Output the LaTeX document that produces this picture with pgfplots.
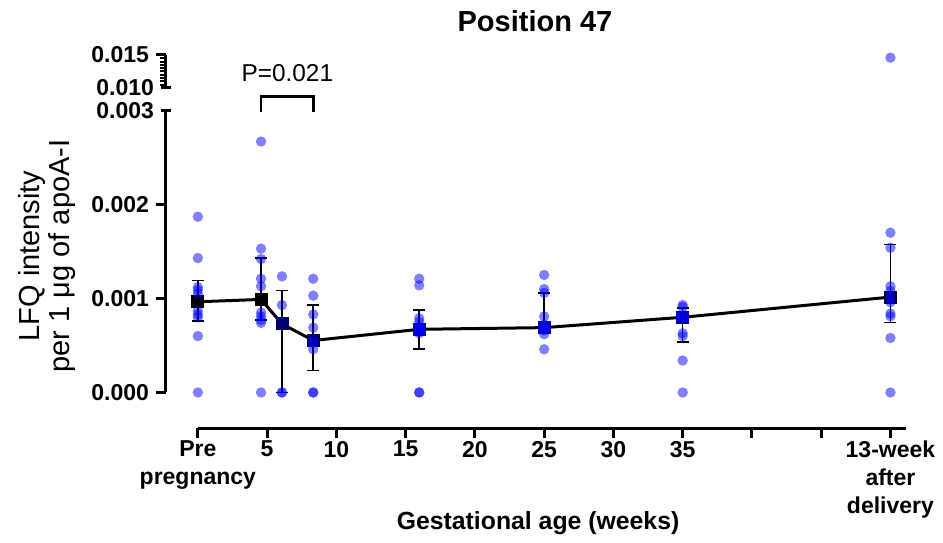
\documentclass[border=0pt]{standalone}
\usepackage{pgfplots}
\pgfplotsset{compat=1.18}
\usepackage{fontspec}
\setmainfont{Liberation Sans}
\definecolor{navyA}{RGB}{0,0,110}
\definecolor{blueB}{RGB}{0,0,200}
\definecolor{navyC}{RGB}{0,0,60}
\pgfplotsset{
  dotstyle/.style={only marks, mark=*, mark size=2.6pt, color=blue, mark options={solid, line width=0pt, draw opacity=0, fill=blue, fill opacity=0.5}},
  base/.style={scale only axis, width=369.85pt, xmin=-2.3, xmax=51.1, clip=false,
    axis line style={draw=none}, tick align=outside, major tick length=5pt, minor tick length=3pt,
    tick style={black, line width=1.5pt}, minor tick style={black, line width=1pt},
    scaled y ticks=false,
    yticklabel style={font=\fontsize{11.5}{13}\selectfont\bfseries},
    extra y tick style={tick align=center}},
}
\begin{document}
\begin{tikzpicture}[x=1pt,y=1pt]
\path[use as bounding box] (0,0) rectangle (471.5,271);
\node[font=\fontsize{14.5}{17}\selectfont\bfseries] at (267.5,260.5) {Position 47};
\begin{axis}[base,
  at={(83pt,57pt)}, anchor=south west, height=158.75pt,
  ymin=-0.000378, ymax=0.003,
  axis x line*=bottom, axis y line*=left,
  xtick={0,5,10,15,20,25,30,35,40,45,50},
  xticklabels={{Pre\\pregnancy},5,10,15,20,25,30,35,{},{},{13-week\\after\\delivery}},
  xticklabel style={align=center, anchor=north, yshift=2pt, font=\fontsize{11.5}{14}\selectfont\bfseries},
  ytick={0,0.001,0.002},
  yticklabels={0.000,0.001,0.002},
  extra y ticks={0.003}, extra y tick labels={0.003},
  xlabel={Gestational age (weeks)},
  xlabel style={font=\fontsize{12.4}{15}\selectfont\bfseries, at={(axis description cs:0.503,-0.299)}, anchor=center},
  ylabel={LFQ intensity\\per 1 μg of apoA-I},
  ylabel style={align=center, font=\fontsize{14.5}{15}\selectfont, at={(axis description cs:-0.161,0.542)}, anchor=center},
]
\draw[line width=1.5pt] (axis cs:-2.3,0) -- (axis cs:-2.3,0.003);
\draw[line width=1.5pt] (axis cs:0,-0.000378) -- (axis cs:51.1,-0.000378);
% significance bracket
\draw[line width=1.3pt] (axis cs:4.56,0.002987) -- (axis cs:4.56,0.003149) -- (axis cs:8.33,0.003149) -- (axis cs:8.33,0.002987);
\node[font=\fontsize{12.2}{14}\selectfont] at (axis cs:6.46,0.0034) {P=0.021};
% error bars
\addplot[draw=none, mark=none, error bars/.cd, y dir=both, y explicit,
  error bar style={black, line width=0.75pt},
  error mark options={rotate=90, black, mark size=3pt, line width=0.75pt}]
  coordinates {
  (0,0.000965) += (0,0.000225) -= (0,0.000205)
  (4.56,0.00099) += (0,0.00044) -= (0,0.00022)
  (6.07,0.00073) += (0,0.000355) -= (0,0.00073)
  (8.33,0.000553) += (0,0.000377) -= (0,0.00032)
  (15.98,0.000672) += (0,0.000207) -= (0,0.000208)
  (25,0.00069) += (0,0.000367) -= (0,0.00006)
  (35,0.0008) += (0,0.0001) -= (0,0.000265)
  (50,0.001015) += (0,0.000558) -= (0,0.00027)
  };
\addplot[black, line width=1.5pt, mark=none] coordinates {
  (0,0.000965) (4.56,0.00099) (6.07,0.00073) (8.33,0.000553) (15.98,0.000672) (25,0.00069) (35,0.0008) (50,0.001015)};
\addplot[only marks, mark=square*, mark size=3pt, black] coordinates {(0,0.000965) (4.56,0.00099)};
\addplot[only marks, mark=square*, mark size=3pt, navyA] coordinates {(6.07,0.00073) (8.33,0.000553)};
\addplot[only marks, mark=square*, mark size=3pt, blueB] coordinates {(15.98,0.000672) (25,0.00069) (35,0.0008)};
\addplot[only marks, mark=square*, mark size=3pt, navyC] coordinates {(50,0.001015)};
% individual points
\addplot[dotstyle] coordinates {
  (0,0.00187) (0,0.00143) (0,0.00112) (0,0.00109) (0,0.00105) (0,0.00087) (0,0.00083) (0,0.00080) (0,0.00060) (0,0)
  (4.56,0.00267) (4.56,0.00153) (4.56,0.00142) (4.56,0.00121) (4.56,0.00113) (4.56,0.00085) (4.56,0.00081) (4.56,0.00077) (4.56,0.00074) (4.56,0)
  (6.07,0.001235) (6.07,0.00093) (6.07,0) (6.07,0)
  (8.33,0.00121) (8.33,0.00103) (8.33,0.00083) (8.33,0.00069) (8.33,0.00054) (8.33,0.00046) (8.33,0) (8.33,0)
  (15.98,0.00121) (15.98,0.00114) (15.98,0.00079) (15.98,0.00075) (15.98,0.00070) (15.98,0.00067) (15.98,0.00063) (15.98,0) (15.98,0)
  (25,0.00125) (25,0.00110) (25,0.00106) (25,0.00081) (25,0.00072) (25,0.00069) (25,0.00066) (25,0.00062) (25,0.00046)
  (35,0.00093) (35,0.00091) (35,0.00080) (35,0.00063) (35,0.00060) (35,0.00034) (35,0)
  (50,0.00170) (50,0.00154) (50,0.00113) (50,0.00108) (50,0.00100) (50,0.00096) (50,0.00084) (50,0.00081) (50,0.00058) (50,0)
  };
\end{axis}
\begin{axis}[base,
  at={(83pt,227pt)}, anchor=south west, height=16.5pt,
  ymin=0.010, ymax=0.015,
  axis x line=none, axis y line*=left,
  ytick={0.015}, yticklabels={0.015},
  extra y ticks={0.010}, extra y tick labels={0.010},
  minor ytick={0.0105,0.011,0.0115,0.012,0.0125,0.013,0.0135,0.014,0.0145},
]
\draw[line width=1.5pt] (axis cs:-2.3,0.010) -- (axis cs:-2.3,0.015);
\addplot[dotstyle] coordinates {(50,0.0146)};
\end{axis}
\end{tikzpicture}
\end{document}
